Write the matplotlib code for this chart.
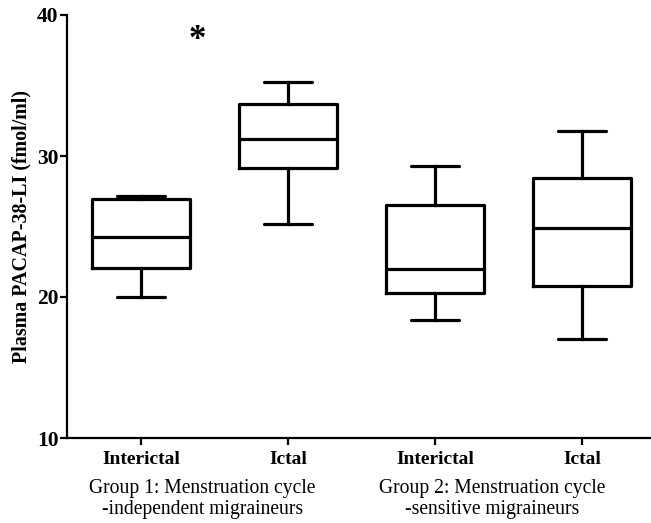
import matplotlib
matplotlib.use("Agg")
import matplotlib.pyplot as plt
from matplotlib.transforms import blended_transform_factory

plt.rcParams['font.family'] = ['Liberation Serif', 'DejaVu Serif']

categories = ["Interictal", "Ictal", "Interictal", "Ictal"]
whisker_low = [19.98, 25.16, 18.37, 17.0]
q1 = [22.08, 29.17, 20.26, 20.78]
median = [24.23, 31.18, 21.96, 24.87]
q3 = [26.95, 33.69, 26.52, 28.42]
whisker_high = [27.16, 35.27, 29.31, 31.8]
group_labels = ["Group 1: Menstruation cycle\n-independent migraineurs",
                "Group 2: Menstruation cycle\n-sensitive migraineurs"]
y_ticks = [10, 20, 30, 40]

fig = plt.figure(figsize=(6.51, 5.23), dpi=100)
ax = fig.add_axes([67/651, 1-438/523, (651-67)/651, (438-15)/523])

stats = []
for i in range(len(categories)):
    stats.append(dict(med=median[i], q1=q1[i], q3=q3[i],
                      whislo=whisker_low[i], whishi=whisker_high[i], fliers=[]))

lw = 2.3
ax.bxp(stats, positions=[1, 2, 3, 4], widths=0.67, capwidths=0.33,
       showfliers=False,
       boxprops=dict(color='black', linewidth=lw),
       whiskerprops=dict(color='black', linewidth=lw),
       capprops=dict(color='black', linewidth=lw, solid_capstyle='round'),
       medianprops=dict(color='black', linewidth=lw))

ax.set_xlim(0.497, 4.47)
ax.set_ylim(10, 40)
ax.set_yticks(y_ticks)
ax.set_yticklabels([str(t) for t in y_ticks], fontweight='bold', fontsize=15.5)
ax.set_xticks([1, 2, 3, 4])
ax.set_xticklabels(categories, fontweight='bold', fontsize=14)

for s in ['top', 'right']:
    ax.spines[s].set_visible(False)
for s in ['left', 'bottom']:
    ax.spines[s].set_linewidth(1.6)
ax.tick_params(axis='both', width=1.6, length=5, direction='out')
ax.tick_params(axis='y', pad=1)
ax.tick_params(axis='x', pad=4)

ax.set_ylabel("Plasma PACAP-38-LI (fmol/ml)", fontweight='bold', fontsize=14.4, labelpad=4)

trans = blended_transform_factory(ax.transData, ax.transAxes)
ax.text(1.42, -0.098, group_labels[0], transform=trans, ha='center', va='top',
        fontsize=14.1, linespacing=1.12)
ax.text(3.39, -0.098, group_labels[1], transform=trans, ha='center', va='top',
        fontsize=14.1, linespacing=1.12)

ax.text(1.385, 38.2, "*", ha='center', va='center', fontsize=25, fontweight='bold')

fig.savefig("out.png", dpi=100)
